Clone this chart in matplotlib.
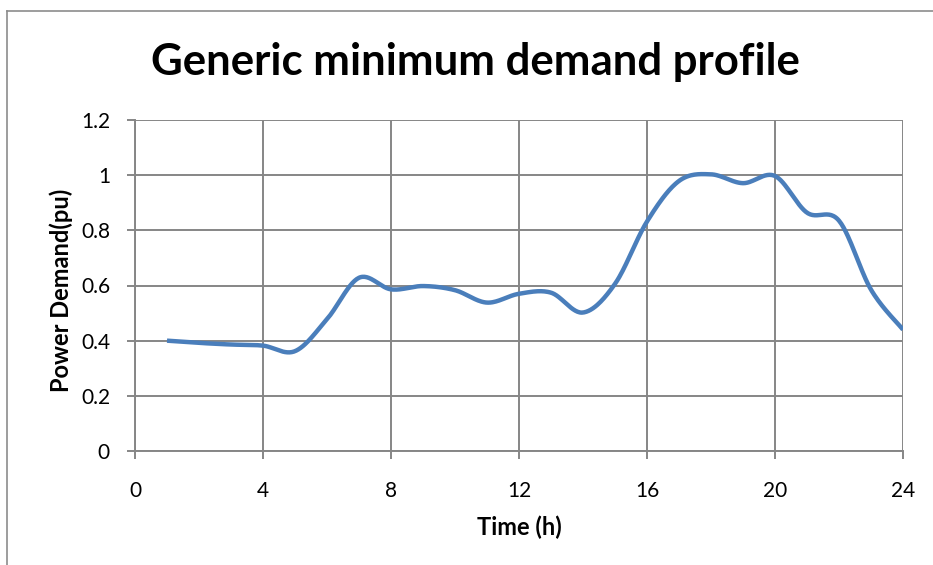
import numpy as np
import matplotlib
matplotlib.use("Agg")
import matplotlib.pyplot as plt
from matplotlib.lines import Line2D

# Hourly minimum demand profile (per unit)
hours = [1, 2, 3, 4, 5, 6, 7, 8, 9, 10, 11, 12,
         13, 14, 15, 16, 17, 18, 19, 20, 21, 22, 23, 24]
demand = [0.40, 0.392, 0.386, 0.382, 0.362, 0.478, 0.628, 0.586, 0.598, 0.583, 0.538, 0.570,
          0.574, 0.502, 0.606, 0.832, 0.979, 1.003, 0.971, 0.997, 0.864, 0.835, 0.585, 0.44]
x_ticks = [0, 4, 8, 12, 16, 20, 24]
y_ticks = [0, 0.2, 0.4, 0.6, 0.8, 1.0, 1.2]
y_tick_labels = ["0", "0.2", "0.4", "0.6", "0.8", "1", "1.2"]


def smooth_curve(xs, ys, steps=30):
    """Catmull-Rom style Bezier smoothing through every data point."""
    xs = np.asarray(xs, float)
    ys = np.asarray(ys, float)
    px = np.concatenate([[xs[0]], xs, [xs[-1]]])
    py = np.concatenate([[ys[0]], ys, [ys[-1]]])
    out_x, out_y = [], []
    t = np.linspace(0, 1, steps)
    for i in range(1, len(px) - 2):
        p0 = np.array([px[i - 1], py[i - 1]])
        p1 = np.array([px[i], py[i]])
        p2 = np.array([px[i + 1], py[i + 1]])
        p3 = np.array([px[i + 2], py[i + 2]])
        c1 = p1 + (p2 - p0) / 6.0
        c2 = p2 - (p3 - p1) / 6.0
        pts = (np.outer((1 - t) ** 3, p1) + np.outer(3 * (1 - t) ** 2 * t, c1)
               + np.outer(3 * (1 - t) * t ** 2, c2) + np.outer(t ** 3, p2))
        out_x.extend(pts[:, 0])
        out_y.extend(pts[:, 1])
    return np.array(out_x), np.array(out_y)


font = "Lato"
grid_col = "#868686"

fig = plt.figure(figsize=(9.33, 5.65), dpi=100)
fig.patch.set_facecolor("white")

# chart area border
fig.add_artist(Line2D([7 / 933, 7 / 933], [0, 1 - 11 / 565], transform=fig.transFigure,
                      color="#8c8c8c", lw=1.2))
fig.add_artist(Line2D([7 / 933, 1], [1 - 11 / 565, 1 - 11 / 565], transform=fig.transFigure,
                      color="#8c8c8c", lw=1.2))

ax = fig.add_axes([135 / 933, 1 - 451 / 565, (903 - 135) / 933, (451 - 120) / 565])
sx, sy = smooth_curve(hours, demand)
ax.plot(sx, sy, color="#4a7ebb", lw=3.2, solid_capstyle="butt", zorder=3)

ax.set_xlim(0, 24)
ax.set_ylim(0, 1.2)
ax.set_xticks(x_ticks)
ax.set_yticks(y_ticks)
ax.set_yticklabels(y_tick_labels)
ax.grid(True, color=grid_col, lw=1.4)
for s in ["top", "right"]:
    ax.spines[s].set_visible(False)
for s in ["left", "bottom"]:
    ax.spines[s].set_color(grid_col)
    ax.spines[s].set_linewidth(1.4)
ax.tick_params(direction="out", length=6, width=1.4, color=grid_col, labelsize=15)
ax.tick_params(axis="y", pad=12)
ax.tick_params(axis="x", pad=15.5)
for lbl in ax.get_xticklabels() + ax.get_yticklabels():
    lbl.set_fontfamily(font)

xl = ax.set_xlabel("Time (h)", fontfamily=font, fontweight="bold", fontsize=17)
xl.set_va("center")
ax.xaxis.set_label_coords(0.5 + (519 - 519) / 768, (451 - 527) / 331)
yl = ax.set_ylabel("Power Demand(pu)", fontfamily=font, fontweight="bold", fontsize=17)
yl.set_va("center")
ax.yaxis.set_label_coords((61 - 135) / 768, (451 - 290) / 331)

fig.text(475 / 933, 1 - 62 / 565, "Generic minimum demand profile", ha="center", va="center",
         fontfamily=font, fontweight="bold", fontsize=31.5)

fig.savefig("out.png", dpi=100, facecolor="white")
